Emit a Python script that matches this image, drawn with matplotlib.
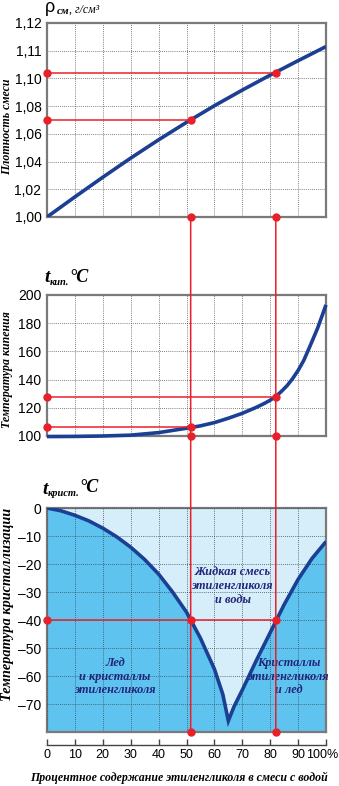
import numpy as np
import matplotlib
matplotlib.use("Agg")
import matplotlib.pyplot as plt
from matplotlib.patches import ConnectionPatch
from matplotlib.transforms import ScaledTranslation

# доля этиленгликоля, %
pct = [0, 10, 20, 30, 40, 50, 60, 70, 80, 90, 100]

# плотность смеси, г/см3
density = [1.000, 1.0145, 1.0287, 1.0425, 1.0557, 1.0683, 1.0803, 1.0916, 1.1012, 1.1064, 1.1115]

# температура кипения, °C
boil_pct = [0, 10, 20, 30, 40, 50, 55, 60, 65, 70, 75, 78, 80, 82, 84, 86, 88, 90, 92, 94, 97, 100]
boil_t = [99.6, 99.7, 100.0, 100.6, 102.4, 105.5, 107.2, 109.5, 112.6, 116.1, 120.3, 123.2,
          125.4, 128.0, 131.6, 135.6, 140.6, 146.5, 153.5, 162.5, 176.5, 193.0]

# температура кристаллизации, °C
frz_pct = [0, 5, 10, 15, 20, 25, 30, 35, 40, 45, 50, 55, 60, 63, 65,
           67, 70, 75, 80, 85, 90, 95, 100]
frz_t = [0, -1.0, -2.6, -4.6, -7.2, -10.3, -14.0, -18.4, -23.6, -30.0, -37.2, -46.5, -57.5, -66.5, -76,
         -71, -65, -54.5, -44.5, -34.5, -25.5, -18, -12]

# отмеченные точки
mark_x = [51.5, 82]
mark_density = [1.070, 1.102]
mark_boil = [106.2, 128.0]
mark_frz = -40

dens_ticks = [1.00, 1.02, 1.04, 1.06, 1.08, 1.10, 1.11, 1.12]
dens_labels = ["1,00", "1,02", "1,04", "1,06", "1,08", "1,10", "1,11", "1,12"]
boil_ticks = [100, 120, 140, 160, 180, 200]
frz_ticks = [0, -10, -20, -30, -40, -50, -60, -70]
x_ticks = [0, 10, 20, 30, 40, 50, 60, 70, 80, 90, 100]
x_labels = ["0", "10", "20", "30", "40", "50", "60", "70", "80", "90", "100%"]

NAVY = "#1b3f93"
RED = "#e8202a"
GRAY = "#7a7a7a"
LIGHT = "#d6eefa"
MID = "#5ec3ef"
TXT = "#22247a"
SANS = ["Liberation Sans Narrow", "Liberation Sans", "DejaVu Sans"]
SERIF = ["Liberation Serif", "DejaVu Serif"]

plt.rcParams["font.family"] = SANS

W, H = 339, 786
fig = plt.figure(figsize=(W / 100, H / 100), dpi=100)


def make_ax(top, bottom):
    ax = fig.add_axes([47 / W, 1 - bottom / H, 279 / W, (bottom - top) / H])
    for s in ax.spines.values():
        s.set_color(GRAY)
        s.set_linewidth(1.6)
    ax.set_xlim(0, 100)
    ax.set_xticks(x_ticks)
    ax.grid(True, color="#555555", linestyle=(0, (1, 1.5)), linewidth=0.6)
    ax.tick_params(axis="y", length=0, labelsize=10, pad=4)
    ax.tick_params(axis="x", length=0, labelbottom=False)
    return ax


# --- плотность ---
ax1 = make_ax(23, 217)
# шкала выше 1,10 растянута вдвое (как на исходном графике)
fwd = lambda v: np.where(v <= 1.10, v, 1.10 + (v - 1.10) * 2)
inv = lambda v: np.where(v <= 1.10, v, 1.10 + (v - 1.10) / 2)
ax1.set_yscale("function", functions=(fwd, inv))
ax1.set_ylim(1.00, 1.12)
ax1.set_yticks(dens_ticks)
ax1.set_yticklabels(dens_labels)
ax1.minorticks_off()
ax1.plot(pct, density, color=NAVY, lw=2.6, solid_capstyle="butt",
         solid_joinstyle="round", zorder=3)

# --- кипение ---
ax2 = make_ax(295, 436)
ax2.set_ylim(100, 200)
ax2.set_yticks(boil_ticks)
ax2.plot(boil_pct, boil_t, color=NAVY, lw=2.6, solid_capstyle="butt",
         solid_joinstyle="round", zorder=3, clip_on=False)

# --- кристаллизация ---
ax3 = make_ax(508, 732)
ax3.set_facecolor(LIGHT)
ax3.set_ylim(-80, 0)
ax3.set_yticks(frz_ticks)
ax3.set_yticklabels([("–%d" % -t) if t else "0" for t in frz_ticks])
ax3.fill_between(frz_pct, frz_t, -80, color=MID, lw=0, zorder=0.5)
ax3.plot(frz_pct, frz_t, color=NAVY, lw=2.6, solid_capstyle="butt",
         solid_joinstyle="miter", zorder=3)
ax3.set_axisbelow(False)
ax3.grid(True, color="#3a4a5a", linestyle=(0, (1, 1.5)), linewidth=0.6, zorder=1)
ax3.axhline(-80, color=GRAY, lw=1.6, clip_on=False, zorder=4)
ax3.spines["bottom"].set_position(("outward", 9.5))
ax3.spines["bottom"].set_linewidth(1.0)
ax3.spines["bottom"].set_color("#444444")
ax3.spines["left"].set_bounds(-80, 0)
ax3.tick_params(axis="x", length=4, width=1.0, color="#444444", direction="in",
                labelbottom=True, labelsize=9, pad=3)
ax3.set_xticklabels(x_labels)
last = ax3.get_xticklabels()[-1]
last.set_transform(last.get_transform() + ScaledTranslation(-0.04, 0, fig.dpi_scale_trans))

lbl = dict(ha="center", va="center", color=TXT, fontsize=8.8, style="italic",
           weight="bold", family=SERIF, linespacing=1.2, zorder=5)
ax3.text(66.5, -27.8, "Жидкая смесь\nэтиленгликоля\nи воды", **lbl)
ax3.text(24.3, -60.2, "Лед\nи кристаллы\nэтиленгликоля", **lbl)
ax3.text(86.5, -60.2, "Кристаллы\nэтиленгликоля\nи лед", **lbl)

# --- красные линии отсчёта ---
dot = dict(marker="o", ms=5, color=RED, ls="none", zorder=6, clip_on=False)
for ax, ys, base in ((ax1, mark_density, 1.00), (ax2, mark_boil, 100)):
    for x, y in zip(mark_x, ys):
        ax.plot([0, x], [y, y], color=RED, lw=1.1, zorder=4, clip_on=False)
        ax.plot([0, x, x], [y, y, base], **dot)
ax3.plot([0, mark_x[1]], [mark_frz, mark_frz], color=RED, lw=1.1, zorder=4)
ax3.plot([0] + mark_x, [mark_frz] * 3, **dot)
ax3.plot(mark_x, [-80, -80], **dot)
for x in mark_x:
    con = ConnectionPatch(xyA=(x, 1.00), coordsA=ax1.transData,
                          xyB=(x, -80), coordsB=ax3.transData,
                          color=RED, lw=1.1, zorder=5)
    fig.add_artist(con)


# --- подписи ---
def ftxt(x, y, s, **kw):
    fig.text(x / W, 1 - y / H, s, **kw)


ftxt(45, 8, "ρ", fontsize=13, va="center", family=SANS)
ftxt(57, 12, "см", fontsize=8, va="center", family=SERIF, style="italic", weight="bold")
ftxt(69, 10, ", г/см³", fontsize=8.5, va="center", family=SERIF, style="italic")

ftxt(44, 278, "t", fontsize=14, va="center", family=SERIF, style="italic", weight="bold")
ftxt(50, 282, "кип.", fontsize=7.5, va="center", family=SERIF, style="italic", weight="bold")
ftxt(69, 277, "°C", fontsize=13, va="center", family=SERIF, style="italic", weight="bold")

ftxt(42, 489, "t", fontsize=14, va="center", family=SERIF, style="italic", weight="bold")
ftxt(48, 493, "крист.", fontsize=7.5, va="center", family=SERIF, style="italic", weight="bold")
ftxt(79, 488, "°C", fontsize=13, va="center", family=SERIF, style="italic", weight="bold")

ftxt(7, 127, "Плотность смеси", rotation=90, ha="center", va="center", fontsize=8.6,
     family=SERIF, style="italic", weight="bold")
ftxt(7, 370, "Температура кипения", rotation=90, ha="center", va="center", fontsize=8.6,
     family=SERIF, style="italic", weight="bold")
ftxt(8, 604, "Температура кристаллизации", rotation=90, ha="center", va="center",
     fontsize=10.3, family=SERIF, style="italic", weight="bold")

ftxt(179, 778, "Процентное содержание этиленгликоля в смеси с водой", ha="center",
     va="center", fontsize=8.6, family=SERIF, style="italic", weight="bold")

fig.savefig("out.png", dpi=100)
